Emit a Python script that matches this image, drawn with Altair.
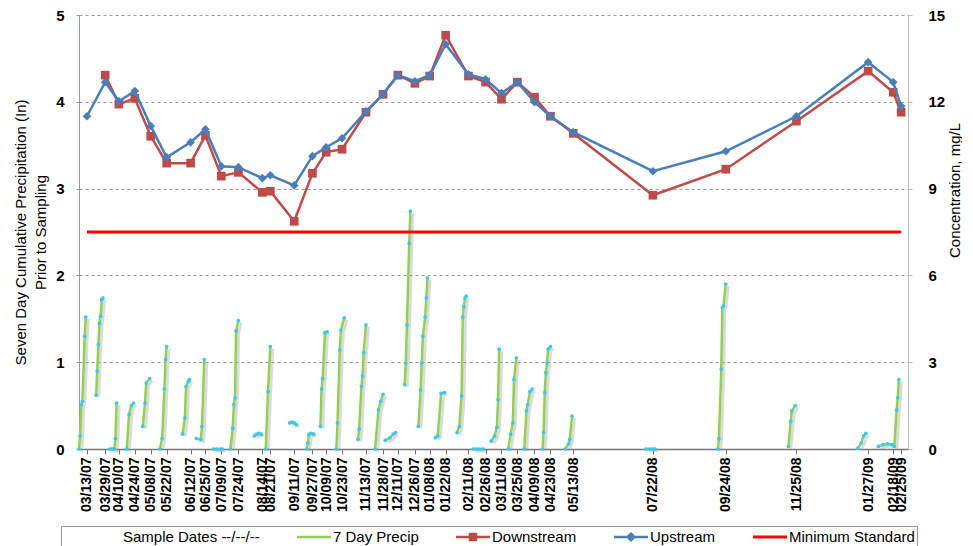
import altair as alt
import pandas as pd

# ---------------- data ----------------
sample_dates = [
    "2007-03-13", "2007-03-29", "2007-04-10", "2007-04-24", "2007-05-08", "2007-05-22",
    "2007-06-12", "2007-06-25", "2007-07-09", "2007-07-24", "2007-08-14", "2007-08-21",
    "2007-09-11", "2007-09-27", "2007-10-09", "2007-10-23", "2007-11-13", "2007-11-28",
    "2007-12-11", "2007-12-26", "2008-01-08", "2008-01-22", "2008-02-11", "2008-02-26",
    "2008-03-11", "2008-03-25", "2008-04-09", "2008-04-23", "2008-05-13", "2008-07-22",
    "2008-09-24", "2008-11-25", "2009-01-27", "2009-02-18", "2009-02-25",
]
upstream = [
    11.50, 12.68, 12.02, 12.37, 11.16, 10.08, 10.60, 11.05, 9.77, 9.74, 9.36, 9.46,
    9.11, 10.12, 10.43, 10.74, 11.67, 12.26, 12.92, 12.71, 12.92, 13.99, 12.95, 12.78,
    12.30, 12.68, 11.99, 11.50, 10.95, 9.60, 10.29, 11.50, 13.37, 12.68, 11.85,
]
downstream = [
    None, 12.92, 11.92, 12.12, 10.81, 9.88, 9.88, 10.84, 9.43, 9.56, 8.87, 8.91,
    7.87, 9.53, 10.26, 10.36, 11.64, 12.26, 12.92, 12.64, 12.89, 14.30, 12.89, 12.68,
    12.09, 12.68, 12.16, 11.50, 10.91, 8.77, 9.67, 11.33, 13.06, 12.33, 11.64,
]
minimum_standard = 7.5

precip_dates = [
    "2007-03-06", "2007-03-07", "2007-03-08", "2007-03-09", "2007-03-11", "2007-03-12",
    "2007-03-21", "2007-03-22", "2007-03-23", "2007-03-24", "2007-03-25", "2007-03-26", "2007-03-27",
    "2007-04-02", "2007-04-04", "2007-04-06", "2007-04-07", "2007-04-08",
    "2007-04-17", "2007-04-19", "2007-04-21", "2007-04-23",
    "2007-05-01", "2007-05-03", "2007-05-04", "2007-05-07",
    "2007-05-16", "2007-05-18", "2007-05-20", "2007-05-21", "2007-05-22",
    "2007-06-05", "2007-06-07", "2007-06-08", "2007-06-10", "2007-06-11",
    "2007-06-17", "2007-06-21", "2007-06-22", "2007-06-24",
    "2007-07-02", "2007-07-05", "2007-07-08", "2007-07-10",
    "2007-07-17", "2007-07-19", "2007-07-20", "2007-07-21", "2007-07-22", "2007-07-24",
    "2007-08-07", "2007-08-09", "2007-08-11", "2007-08-13",
    "2007-08-17", "2007-08-19", "2007-08-21",
    "2007-09-07", "2007-09-09", "2007-09-11", "2007-09-13",
    "2007-09-22", "2007-09-23", "2007-09-24", "2007-09-26", "2007-09-28",
    "2007-10-04", "2007-10-05", "2007-10-06", "2007-10-08", "2007-10-10",
    "2007-10-18", "2007-10-19", "2007-10-21", "2007-10-22", "2007-10-25",
    "2007-11-06", "2007-11-07", "2007-11-09", "2007-11-10", "2007-11-11", "2007-11-13",
    "2007-11-21", "2007-11-24", "2007-11-26", "2007-11-28",
    "2007-11-30", "2007-12-04", "2007-12-07", "2007-12-09",
    "2007-12-17", "2007-12-18", "2007-12-19", "2007-12-21", "2007-12-22",
    "2007-12-29", "2007-12-31", "2008-01-01", "2008-01-02", "2008-01-04", "2008-01-05", "2008-01-06",
    "2008-01-13", "2008-01-15", "2008-01-18", "2008-01-21",
    "2008-02-01", "2008-02-03", "2008-02-05", "2008-02-06", "2008-02-07", "2008-02-08", "2008-02-09",
    "2008-02-15", "2008-02-18", "2008-02-21", "2008-02-24",
    "2008-03-02", "2008-03-05", "2008-03-07", "2008-03-08", "2008-03-09",
    "2008-03-17", "2008-03-19", "2008-03-21", "2008-03-22", "2008-03-24",
    "2008-03-31", "2008-04-02", "2008-04-03", "2008-04-05", "2008-04-07",
    "2008-04-16", "2008-04-17", "2008-04-18", "2008-04-19", "2008-04-20", "2008-04-21", "2008-04-23",
    "2008-05-06", "2008-05-09", "2008-05-10", "2008-05-12",
    "2008-07-16", "2008-07-19", "2008-07-22", "2008-07-24",
    "2008-09-17", "2008-09-18", "2008-09-20", "2008-09-21", "2008-09-22", "2008-09-24",
    "2008-11-18", "2008-11-20", "2008-11-21", "2008-11-24",
    "2009-01-18", "2009-01-21", "2009-01-23", "2009-01-25",
    "2009-02-05", "2009-02-09", "2009-02-13", "2009-02-17",
    "2009-02-19", "2009-02-21", "2009-02-22", "2009-02-23",
]
precip_in = [
    0.00, 0.15, 0.51, 0.55, 1.30, 1.52,
    0.62, 0.90, 1.20, 1.45, 1.53, 1.72, 1.74,
    0.00, 0.00, 0.00, 0.12, 0.53,
    0.00, 0.40, 0.50, 0.53,
    0.26, 0.53, 0.76, 0.81,
    0.00, 0.12, 0.69, 1.03, 1.18,
    0.17, 0.36, 0.72, 0.78, 0.80,
    0.12, 0.11, 0.26, 1.03,
    0.00, 0.00, 0.00, 0.00,
    0.00, 0.24, 0.51, 0.59, 1.36, 1.48,
    0.15, 0.17, 0.18, 0.17,
    0.00, 0.66, 1.18,
    0.30, 0.31, 0.30, 0.28,
    0.00, 0.07, 0.17, 0.18, 0.17,
    0.26, 0.69, 0.81, 1.34, 1.35,
    0.00, 0.30, 1.14, 1.37, 1.51,
    0.11, 0.23, 0.72, 0.84, 1.11, 1.43,
    0.00, 0.45, 0.55, 0.63,
    0.10, 0.13, 0.17, 0.19,
    0.74, 0.99, 1.43, 2.37, 2.74,
    0.26, 0.68, 0.99, 1.30, 1.52, 1.74, 1.97,
    0.13, 0.15, 0.64, 0.65,
    0.19, 0.26, 0.61, 1.52, 1.64, 1.74, 1.76,
    0.00, 0.00, 0.00, 0.00,
    0.09, 0.15, 0.25, 0.57, 1.15,
    0.00, 0.17, 0.30, 0.80, 1.05,
    0.00, 0.44, 0.51, 0.66, 0.69,
    0.00, 0.19, 0.65, 0.88, 0.99, 1.15, 1.18,
    0.00, 0.06, 0.11, 0.38,
    0.00, 0.00, 0.00, 0.00,
    0.00, 0.12, 0.92, 1.63, 1.65, 1.90,
    0.03, 0.32, 0.44, 0.50,
    0.01, 0.07, 0.15, 0.18,
    0.03, 0.05, 0.06, 0.05,
    0.03, 0.45, 0.59, 0.80,
]
precip_segment = (
    [1] * 6 + [2] * 7 + [3] * 5 + [4] * 4 + [5] * 4 + [6] * 5 + [7] * 5 + [8] * 4 + [9] * 4
    + [10] * 6 + [11] * 4 + [12] * 3 + [13] * 4 + [14] * 5 + [15] * 5 + [16] * 5 + [17] * 6
    + [18] * 4 + [19] * 4 + [20] * 5 + [21] * 7 + [22] * 4 + [23] * 7 + [24] * 4 + [25] * 5
    + [26] * 5 + [27] * 5 + [28] * 7 + [29] * 4 + [30] * 4 + [31] * 6 + [32] * 4 + [33] * 4
    + [34] * 4 + [35] * 4
)

legend_items = ["Sample Dates --/--/--", "7 Day Precip", "Downstream", "Upstream", "Minimum Standard"]
legend_colors = ["#ffffff", "#92D050", "#BE4B48", "#4A7EBB", "#FF0000"]
legend_shapes = [
    "M0,0",
    "M-1,-0.07H1V0.07H-1Z",
    "M-1,-0.07H1V0.07H-1Z M-0.25,-0.25H0.25V0.25H-0.25Z",
    "M-1,-0.07H1V0.07H-1Z M0,-0.3L0.3,0L0,0.3L-0.3,0Z",
    "M-1,-0.09H1V0.09H-1Z",
]

x_start, x_end = "2007-03-06", "2009-03-03"

# ---------------- frames ----------------
def dt(s):
    y, m, d = s.split("-")
    return alt.DateTime(year=int(y), month=int(m), date=int(d))

conc_df = pd.DataFrame({"date": pd.to_datetime(sample_dates), "up": upstream, "down": downstream})
down_df = conc_df.dropna(subset=["down"])
precip_df = pd.DataFrame({"date": pd.to_datetime(precip_dates), "precip": precip_in, "seg": precip_segment})
min_df = pd.DataFrame({"date": pd.to_datetime([sample_dates[0], sample_dates[-1]]),
                       "value": [minimum_standard, minimum_standard]})
legend_df = pd.DataFrame({"item": legend_items})

FONT = "Liberation Sans"

x_axis = alt.Axis(
    values=[dt(s) for s in sample_dates], format="%m/%d/%y", labelAngle=270,
    labelOverlap=False, labelBound=False, labelFlush=False,
    labelFontSize=14, labelFontWeight="bold", labelColor="#000", labelPadding=3,
    tickSize=5, tickColor="#777", domainColor="#777", domainWidth=1.5,
    grid=False, title=None,
)
x_scale = alt.Scale(domain=[dt(x_start), dt(x_end)])
x_enc = alt.X("date:T", scale=x_scale, axis=x_axis)

left_axis = alt.Axis(
    values=[0, 1, 2, 3, 4, 5], orient="left",
    title=["Seven Day Cumulative Precipitation (In)", "Prior to Sampling"],
    titleFontSize=15, titleFontWeight="normal", titleColor="#000", titleLineHeight=20,
    titlePadding=7,
    labelFontSize=15, labelFontWeight="bold", labelColor="#000", labelPadding=12,
    tickSize=3, tickColor="#999", domainColor="#999",
    grid=True, gridDash=[3, 3], gridColor="#999", gridWidth=1,
)
right_axis = alt.Axis(
    values=[0, 3, 6, 9, 12, 15], orient="right",
    title="Concentration, mg/L", titleFontSize=15, titleFontWeight="normal", titleColor="#000",
    titleAngle=270, titleAlign="center", titleBaseline="middle", titleX=46, titleY=175,
    labelFontSize=15, labelFontWeight="bold", labelColor="#000", labelPadding=16,
    tickSize=4, tickColor="#bbb", domainColor="#bbb", grid=False,
)

p_scale = alt.Scale(domain=[0, 5])
c_scale = alt.Scale(domain=[0, 15])

# precipitation (left axis)
pbase = alt.Chart(precip_df)
p_shadow = pbase.mark_line(color="#999999", strokeWidth=3, opacity=0.35, xOffset=2.5, yOffset=2).encode(
    x=x_enc, y=alt.Y("precip:Q", scale=p_scale, axis=left_axis), detail="seg:N")
p_line = pbase.mark_line(color="#92D050", strokeWidth=2.5).encode(
    x=x_enc, y=alt.Y("precip:Q", scale=p_scale, axis=None), detail="seg:N")
p_pts = pbase.mark_point(filled=True, color="#3CC8F0", size=14, opacity=1).encode(
    x=x_enc, y=alt.Y("precip:Q", scale=p_scale, axis=None))

# concentration (right axis)
min_line = alt.Chart(min_df).mark_line(color="#FF0000", strokeWidth=3).encode(
    x=x_enc, y=alt.Y("value:Q", scale=c_scale, axis=right_axis))
down_line = alt.Chart(down_df).mark_line(
    color="#BE4B48", strokeWidth=2.5,
    point=alt.OverlayMarkDef(shape="square", size=75, filled=True, color="#BE4B48", opacity=1),
).encode(x=x_enc, y=alt.Y("down:Q", scale=c_scale, axis=None))
up_line = alt.Chart(conc_df).mark_line(
    color="#4A7EBB", strokeWidth=2.5,
    point=alt.OverlayMarkDef(shape="diamond", size=75, filled=True, color="#4A7EBB", opacity=1),
).encode(x=x_enc, y=alt.Y("up:Q", scale=c_scale, axis=None))

leg = alt.Legend(
    title=None, orient="none", legendX=-18, legendY=511, direction="horizontal",
    symbolSize=1156, symbolStrokeWidth=0, symbolOffset=24, labelOffset=2, clipHeight=18,
    labelFontSize=15, labelColor="#000", labelFont=FONT, columnPadding=13,
    strokeColor="#999", padding=2, fillColor="#ffffff",
)
legend_layer = alt.Chart(legend_df).mark_point(filled=True, opacity=1).encode(
    color=alt.Color("item:N", scale=alt.Scale(domain=legend_items, range=legend_colors), legend=leg),
    shape=alt.Shape("item:N", scale=alt.Scale(domain=legend_items, range=legend_shapes), legend=leg),
).transform_filter("false")

chart = alt.layer(
    p_shadow, p_line, p_pts, min_line, down_line, up_line, legend_layer
).resolve_scale(y="independent").properties(
    width=829, height=434,
    padding={"left": 5, "top": 0, "right": 0, "bottom": 5},
).configure(font=FONT).configure_view(stroke=None)

chart.save("out.html", embed_options={"renderer": "svg", "actions": False})
